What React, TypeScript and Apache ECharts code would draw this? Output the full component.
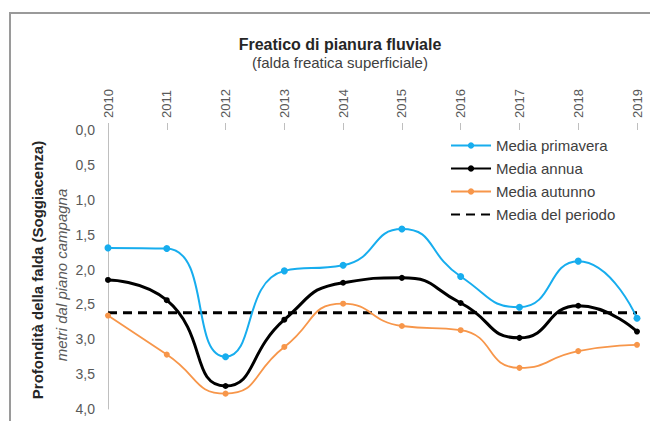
import React, { useEffect, useRef } from "react";
import * as echarts from "echarts";

const years = ["2010", "2011", "2012", "2013", "2014", "2015", "2016", "2017", "2018", "2019"];
const mediaPrimavera = [1.69, 1.7, 3.25, 2.02, 1.94, 1.42, 2.1, 2.54, 1.88, 2.7];
const mediaAnnua = [2.15, 2.44, 3.67, 2.72, 2.19, 2.12, 2.48, 2.98, 2.52, 2.89];
const mediaAutunno = [2.66, 3.22, 3.78, 3.11, 2.49, 2.81, 2.87, 3.41, 3.17, 3.08];
const mediaPeriodo = [2.62, 2.62, 2.62, 2.62, 2.62, 2.62, 2.62, 2.62, 2.62, 2.62];

const FONT = "'Liberation Sans', Arial, sans-serif";

export default function App() {
  const ref = useRef<HTMLDivElement>(null);
  useEffect(() => {
    if (!ref.current) return;
    const chart = echarts.init(ref.current, undefined, { renderer: "svg" });
    chart.setOption({
      animation: false,
      backgroundColor: "#ffffff",
      textStyle: { fontFamily: FONT },
      title: {
        text: "Freatico di pianura fluviale",
        subtext: "(falda freatica superficiale)",
        left: 335,
        top: 31,
        textAlign: "center",
        itemGap: 3,
        textStyle: { fontFamily: FONT, fontSize: 16, fontWeight: "bold", color: "#262626" },
        subtextStyle: { fontFamily: FONT, fontSize: 15, color: "#404040" },
      },
      graphic: [
        {
          type: "rect",
          shape: { x: 10, y: 13, width: 680, height: 440 },
          style: { fill: "none", stroke: "#9a9a9a", lineWidth: 2 },
          silent: true,
        },
        {
          type: "text",
          x: 37,
          y: 270,
          rotation: Math.PI / 2,
          style: {
            text: "Profondità della falda (Soggiacenza)",
            fontFamily: FONT,
            fontSize: 15,
            fontWeight: "bold",
            fill: "#262626",
            align: "center",
            verticalAlign: "middle",
          },
        },
        {
          type: "text",
          x: 61,
          y: 275,
          rotation: Math.PI / 2,
          style: {
            text: "metri dal piano campagna",
            fontFamily: FONT,
            fontSize: 15,
            fontStyle: "italic",
            fill: "#595959",
            align: "center",
            verticalAlign: "middle",
          },
        },
      ],
      legend: {
        orient: "vertical",
        left: 445,
        top: 133,
        itemWidth: 40,
        itemHeight: 8,
        itemGap: 8,
        textStyle: { fontFamily: FONT, fontSize: 15, color: "#404040" },
        data: [
          "Media primavera",
          "Media annua",
          "Media autunno",
          { name: "Media del periodo", itemStyle: { opacity: 0 } },
        ],
      },
      grid: { left: 108, right: 13, top: 130, bottom: 12, containLabel: false },
      xAxis: {
        type: "category",
        data: years,
        position: "top",
        boundaryGap: false,
        axisLine: { show: false },
        axisTick: { show: true, length: 7, lineStyle: { color: "#bfbfbf" } },
        axisLabel: { rotate: 90, fontSize: 13, color: "#595959", margin: 12, fontFamily: FONT },
        splitLine: { show: false },
      },
      yAxis: {
        type: "value",
        inverse: true,
        min: 0,
        max: 4,
        interval: 0.5,
        axisLine: { show: true, lineStyle: { color: "#bfbfbf", width: 1 } },
        axisTick: { show: false },
        splitLine: { show: false },
        axisLabel: {
          fontSize: 14,
          color: "#595959",
          margin: 13,
          fontFamily: FONT,
          formatter: (v: number) => v.toFixed(1).replace(".", ","),
        },
      },
      series: [
        {
          name: "Media primavera",
          type: "line",
          data: mediaPrimavera,
          smooth: 0.55,
          symbol: "circle",
          symbolSize: 7,
          color: "#17adee",
          lineStyle: { width: 2, color: "#17adee" },
          z: 3,
        },
        {
          name: "Media annua",
          type: "line",
          data: mediaAnnua,
          smooth: 0.55,
          symbol: "circle",
          symbolSize: 6,
          color: "#000000",
          lineStyle: { width: 3, color: "#000000" },
          z: 4,
        },
        {
          name: "Media autunno",
          type: "line",
          data: mediaAutunno,
          smooth: 0.55,
          symbol: "circle",
          symbolSize: 6,
          color: "#f7964a",
          lineStyle: { width: 1.8, color: "#f7964a" },
          z: 3,
        },
        {
          name: "Media del periodo",
          type: "line",
          data: mediaPeriodo,
          symbol: "none",
          color: "#000000",
          lineStyle: { width: 3, type: [9, 6], color: "#000000" },
          z: 2,
        },
      ],
    });
    return () => chart.dispose();
  }, []);
  return (
    <div
      ref={ref}
      style={{ position: "fixed", left: 0, top: 0, width: 650, height: 421 }}
    />
  );
}
